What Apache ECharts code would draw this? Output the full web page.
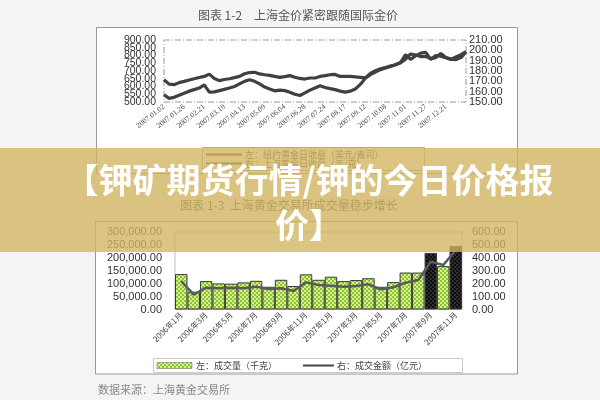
<!DOCTYPE html>
<html><head><meta charset="utf-8">
<script src="https://cdn.jsdelivr.net/npm/echarts@6/dist/echarts.min.js"></script>
<style>html,body{margin:0;padding:0;background:#f4f4f4}#c{width:600px;height:400px}</style>
</head><body><div id="c"></div>
<script>
// ---- Chart 1-2: gold prices ----
const goldTickLabels = ['2007.01.02','2007.01.26','2007.02.21','2007.03.19','2007.04.13','2007.05.09','2007.06.04','2007.06.28','2007.07.24','2007.08.17','2007.09.12','2007.10.08','2007.11.01','2007.11.27','2007.12.21'];
const nyGold = [644,615,612,625,633,642,650,658,665,680,652,638,645,650,657,665,682,690,692,681,676,672,665,659,664,670,660,652,648,655,655,665,670,676,678,665,666,665,662,659,656,685,702,714,722,732,740,755,805,775,798,815,820,775,800,795,785,775,790,805,825];
const shGold = [157,153.5,154.5,156.5,158.5,160.5,162,163.5,166.5,159.5,159.8,161,162.2,163.5,165,167.5,170,171.5,170,167.5,164.5,162.5,160.8,161.5,161,159.5,157.5,156.3,158.8,161.5,163.6,165.8,164,163,162,160.5,159.5,160.5,162.5,167,173,176.5,179,181.3,183,184.5,186,188,191.5,196.5,195.5,194,194,192,193,197,193,191.5,191,193,198.5];
// ---- Chart 1-3: SGE volume & turnover ----
const months = ['2006年1月','2006年2月','2006年3月','2006年4月','2006年5月','2006年6月','2006年7月','2006年8月','2006年9月','2006年10月','2006年11月','2006年12月','2007年1月','2007年2月','2007年3月','2007年4月','2007年5月','2007年6月','2007年7月','2007年8月','2007年9月','2007年10月','2007年11月'];
const volume = [137000,69000,110000,101000,100000,105000,111000,88000,115000,91000,136000,115000,127000,110000,114000,121000,88000,106000,143000,143000,219000,168000,246000];
const turnover = [220,115,169,164,169,164,177,159,164,143,210,190,184,177,182,195,156,172,208,228,370,344,460];
const darkBarIdx = [20, 22];

function makePattern(bg, fg, size) {
  const c = document.createElement('canvas');
  c.width = size; c.height = size;
  const g = c.getContext('2d');
  g.fillStyle = bg; g.fillRect(0, 0, size, size);
  g.fillStyle = fg;
  const h = size / 2;
  g.fillRect(0, 0, h, h); g.fillRect(h, h, h, h);
  return c;
}
const greenPat = { image: makePattern('#d6f28a', '#8cc235', 4), repeat: 'repeat' };
const darkPat = { image: makePattern('#0d0d0d', '#2e2e2e', 4), repeat: 'repeat' };

const goldCats = nyGold.map((_, i) => String(i));
const fmtComma = v => v.toLocaleString('en-US', { minimumFractionDigits: 2, maximumFractionDigits: 2 });
function lab(extra) {
  return Object.assign({ fontFamily: 'Liberation Sans', fontSize: 11, color: '#333' }, extra);
}
const noAx = { axisLine: { show: false }, axisTick: { show: false }, splitLine: { show: false } };
// Tightly-stacked top-chart labels are split over two label axes so none is dropped for overlap.
function topAxis(min, max, step, pos, margin, fontSize, even) {
  const keep = v => (Math.round((v - min) / step) % 2 === 0) === even;
  return Object.assign({ gridIndex: 0, type: 'value', min, max, interval: step, position: pos }, noAx, {
    axisLabel: lab({ margin, fontSize, showMinLabel: even, showMaxLabel: even,
      formatter: v => keep(v) ? v.toFixed(2) : '' }) });
}

const chart = echarts.init(document.getElementById('c'), null, { renderer: 'canvas' });
chart.setOption({
  backgroundColor: '#f4f4f4',
  animation: false,
  grid: [
    { left: 164, top: 40, width: 302, height: 62, show: false },
    { left: 175, top: 232, width: 287, height: 77.5, show: true, borderColor: '#bdbdbd', borderWidth: 1 }
  ],
  xAxis: [
    { gridIndex: 0, type: 'category', data: goldCats, boundaryGap: false,
      axisLine: { show: false }, axisTick: { show: false },
      axisLabel: { interval: 3, rotate: 38, margin: 4, fontFamily: 'Liberation Serif', fontSize: 7.5, color: '#444',
        formatter: v => goldTickLabels[Number(v) / 4] || '' } },
    { gridIndex: 1, type: 'category', data: months, boundaryGap: true,
      axisLine: { show: false }, axisTick: { show: false },
      axisLabel: { interval: 1, rotate: 45, margin: 4, fontFamily: 'Noto Sans CJK SC', fontSize: 8, color: '#444' } }
  ],
  yAxis: [
    topAxis(500, 900, 50, 'left', 8, 10.5, false),
    topAxis(150, 210, 10, 'right', 3, 11, false),
    Object.assign({ gridIndex: 1, type: 'value', min: 0, max: 300000, interval: 50000, position: 'left' }, noAx,
      { axisLabel: lab({ margin: 13, formatter: fmtComma }) }),
    Object.assign({ gridIndex: 1, type: 'value', min: 0, max: 600, interval: 100, position: 'right' }, noAx,
      { axisLabel: lab({ margin: 10, formatter: v => v.toFixed(2) }) }),
    topAxis(500, 900, 50, 'left', 8, 10.5, true),
    topAxis(150, 210, 10, 'right', 3, 11, true)
  ],
  series: [
    { name: '纽约黄金日收盘（美元/盎司）', type: 'line', xAxisIndex: 0, yAxisIndex: 0, data: nyGold,
      symbol: 'none', lineStyle: { color: '#404040', width: 3.2 } },
    { name: '上海黄金日收盘（元/克）', type: 'line', xAxisIndex: 0, yAxisIndex: 1, data: shGold,
      symbol: 'none', lineStyle: { color: '#404040', width: 3.2 } },
    { name: '成交量（千克）', type: 'bar', xAxisIndex: 1, yAxisIndex: 2, barCategoryGap: '0%',
      data: volume.map((v, i) => darkBarIdx.includes(i) ? { value: v, itemStyle: { color: darkPat } } : v),
      itemStyle: { color: greenPat, borderColor: '#3a3a3a', borderWidth: 1 } },
    { name: '成交金额（亿元）', type: 'line', xAxisIndex: 1, yAxisIndex: 3, data: turnover,
      symbol: 'none', z: 5, lineStyle: { color: '#5a5a5a', width: 2.5 } }
  ],
  graphic: [
    { type: 'rect', z: -10, shape: { x: 96.5, y: 27.5, width: 421, height: 146 }, style: { fill: '#fff', stroke: '#999', lineWidth: 1 } },
    { type: 'rect', z: -10, shape: { x: 95.5, y: 221.5, width: 422, height: 152.5 }, style: { fill: '#fff', stroke: '#999', lineWidth: 1 } },
    { type: 'rect', z: 1, shape: { x: 164, y: 40, width: 302, height: 62 }, style: { fill: null, stroke: '#9a9a9a', lineWidth: 1, lineDash: [6, 2, 1, 2] } },
    { type: 'text', z: 1, x: 298, y: 15, style: { text: '图表 1-2　上海金价紧密跟随国际金价', fontFamily: 'Noto Sans CJK SC', fontSize: 12, fill: '#555', align: 'center', verticalAlign: 'middle' } },
    { type: 'text', z: 1, x: 289, y: 205, style: { text: '图表 1-3  上海黄金交易所成交量稳步增长', fontFamily: 'Noto Sans CJK SC', fontSize: 12, fill: '#555', align: 'center', verticalAlign: 'middle' } },
    { type: 'rect', z: 1, shape: { x: 202.5, y: 147.5, width: 222, height: 23 }, style: { fill: '#fff', stroke: '#aaa', lineWidth: 1 } },
    { type: 'line', z: 2, shape: { x1: 206, y1: 154.5, x2: 242, y2: 154.5 }, style: { stroke: '#444', lineWidth: 2 } },
    { type: 'line', z: 2, shape: { x1: 206, y1: 163.5, x2: 242, y2: 163.5 }, style: { stroke: '#444', lineWidth: 2 } },
    { type: 'text', z: 2, x: 245, y: 154.5, style: { text: '左：纽约黄金日收盘（美元/盎司）', fontFamily: 'Noto Sans CJK SC', fontSize: 9, fill: '#444', verticalAlign: 'middle' } },
    { type: 'text', z: 2, x: 245, y: 163.5, style: { text: '右：上海黄金日收盘（元/克）', fontFamily: 'Noto Sans CJK SC', fontSize: 9, fill: '#444', verticalAlign: 'middle' } },
    { type: 'rect', z: 1, shape: { x: 153.5, y: 358.5, width: 309, height: 14 }, style: { fill: '#fff', stroke: '#ccc', lineWidth: 1 } },
    { type: 'rect', z: 2, shape: { x: 157, y: 362.5, width: 35, height: 6 }, style: { fill: greenPat, stroke: '#666', lineWidth: 0.5 } },
    { type: 'text', z: 2, x: 196, y: 365.5, style: { text: '左：成交量（千克）', fontFamily: 'Noto Sans CJK SC', fontSize: 9, fill: '#444', verticalAlign: 'middle' } },
    { type: 'line', z: 2, shape: { x1: 303, y1: 365.5, x2: 334, y2: 365.5 }, style: { stroke: '#444', lineWidth: 2 } },
    { type: 'text', z: 2, x: 337, y: 365.5, style: { text: '右：成交金额（亿元）', fontFamily: 'Noto Sans CJK SC', fontSize: 9, fill: '#444', verticalAlign: 'middle' } },
    { type: 'text', z: 1, x: 98, y: 390, style: { text: '数据来源：上海黄金交易所', fontFamily: 'Noto Sans CJK SC', fontSize: 11, fill: '#888', verticalAlign: 'middle' } },
    { type: 'rect', z: 100, shape: { x: 0, y: 148, width: 600, height: 104 }, style: { fill: 'rgb(210,180,96)', opacity: 0.78 } },
    { type: 'text', z: 101, x: 309, y: 180, style: { text: '【钾矿期货行情/钾的今日价格报', fontFamily: 'Noto Sans CJK SC', fontWeight: 'bold', fontSize: 34, fill: '#fff', align: 'center', verticalAlign: 'middle' } },
    { type: 'text', z: 101, x: 309, y: 225, style: { text: '价】', fontFamily: 'Noto Sans CJK SC', fontWeight: 'bold', fontSize: 34, fill: '#fff', align: 'center', verticalAlign: 'middle' } }
  ]
});
</script>
</body></html>
